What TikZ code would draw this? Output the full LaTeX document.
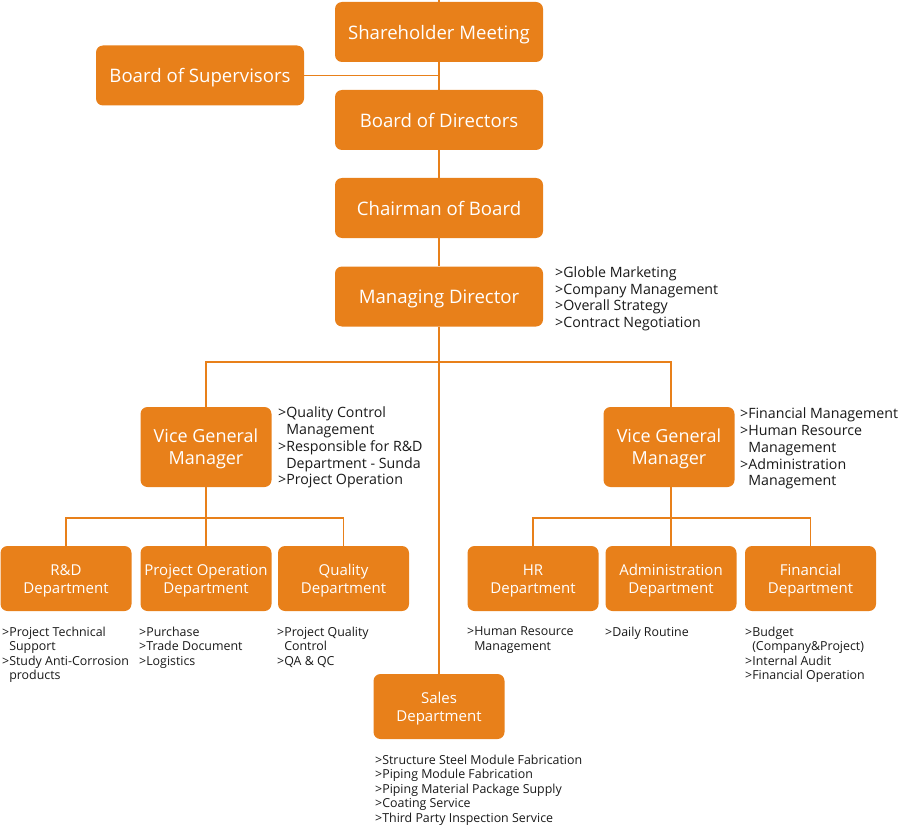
\documentclass[tikz,border=0pt]{standalone}
\usepackage{fontspec}
\setmainfont{Open Sans}
\definecolor{org}{RGB}{232,128,26}
\definecolor{txt}{RGB}{25,25,25}
\tikzset{
  box/.style={fill=org, rounded corners=7pt, text=white, align=center, inner sep=0pt,
     text depth=-1.5pt, font=\fontsize{18.6}{22}\selectfont},
  topbox/.style={box, minimum width=208pt, minimum height=60pt},
  vgmbox/.style={box, minimum width=131pt, minimum height=80pt, font=\fontsize{18}{22}\selectfont},
  deptbox/.style={box, minimum width=131pt, minimum height=65pt, font=\fontsize{15}{18}\selectfont},
  link/.style={draw=org, line width=1.6pt},
  lst/.style={anchor=north west, align=left, inner sep=0pt, text=txt, font=\fontsize{14.2}{16.7}\selectfont},
  slst/.style={lst, font=\fontsize{12.4}{14.5}\selectfont}
}
\newcommand{\ind}{\phantom{>}}
\newcommand{\tl}{\vphantom{l}}
\begin{document}
\begin{tikzpicture}[x=1pt,y=-1pt]
\useasboundingbox (0,0) rectangle (900,840);
% nodes
\node[topbox] (sm) at (439,32) {Shareholder Meeting};
\node[topbox] (bs) at (200,75.5) {Board of Supervisors};
\node[topbox] (bd) at (439,120) {Board of Directors};
\node[topbox] (cb) at (439,208) {Chairman of Board};
\node[topbox] (md) at (439,296.5) {Managing Director};
\node[vgmbox] (vl) at (206,447) {Vice General\\Manager};
\node[vgmbox] (vr) at (669,447) {Vice General\\Manager};
\node[deptbox] (rd) at (66,578.5) {\tl R\&D\\Department};
\node[deptbox] (po) at (206,578.5) {Project Operation\\Department};
\node[deptbox] (qd) at (343.5,578.5) {Quality\\Department};
\node[deptbox] (hr) at (533,578.5) {\tl HR\\Department};
\node[deptbox] (ad) at (671,578.5) {Administration\\Department};
\node[deptbox] (fd) at (810.5,578.5) {Financial\\Department};
\node[deptbox] (sd) at (439,706.5) {Sales\\Department};
% coordinates
\coordinate (top) at (439,0);
\coordinate (bar) at (439,362);
\coordinate (lbar) at (206,518);
\coordinate (rbar) at (671,518);
\coordinate (vlt) at (206,407);
\coordinate (vrt) at (671,407);
\coordinate (vrb) at (671,487);
% connectors
\draw[link] (top) -- (sm.north);
\draw[link] (sm.south) -- (bd.north);
\draw[link] (bs.east) -- (bs.east -| sm.south);
\draw[link] (bd.south) -- (cb.north);
\draw[link] (cb.south) -- (md.north);
\draw[link] (md.south) -- (sd.north);
\draw[link] (vlt) |- (bar) -| (vrt);
\draw[link] (vl.south) -- (lbar);
\draw[link] (rd.north) |- (lbar) -| (qd.north);
\draw[link] (lbar) -- (po.north);
\draw[link] (vrb) -- (rbar);
\draw[link] (hr.north) |- (rbar) -| (fd.north);
\draw[link] (rbar) -- (ad.north);
% lists
\node[lst] (mdl) at (555,266.5) {>Globle Marketing\\>Company Management\\>Overall Strategy\\>Contract Negotiation};
\node[lst] (vll) at (278,407) {>Quality Control\\\ind Management\\>Responsible for R\&D\\\ind Department - Sunda\\>Project Operation};
\node[lst] (vrl) at (740,408) {>Financial Management\\>Human Resource\\\ind Management\\>Administration\\\ind Management};
\node[slst] (rdl) at (2,626.5) {>Project Technical\\\ind Support\\>Study Anti-Corrosion\\\ind products};
\node[slst] (pol) at (139,626.5) {>Purchase\\>Trade Document\\>Logistics};
\node[slst] (qdl) at (277,626.5) {>Project Quality\\\ind Control\\>QA \& QC};
\node[slst] (hrl) at (467,626.5) {>Human Resource\\\ind Management};
\node[slst] (adl) at (605,626.5) {>Daily Routine};
\node[slst] (fdl) at (745,626.5) {>Budget\\\ind (Company\&Project)\\>Internal Audit\\>Financial Operation};
\node[slst] (sdl) at (375,754.5) {>Structure Steel Module Fabrication\\>Piping Module Fabrication\\>Piping Material Package Supply\\>Coating Service\\>Third Party Inspection Service};
\end{tikzpicture}
\end{document}
